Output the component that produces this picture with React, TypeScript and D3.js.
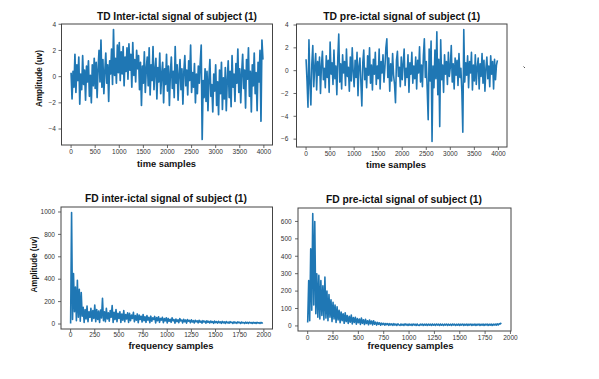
import React from "react";
import * as d3 from "d3";

const TD_STEP = 20;
const FD_STEP = 10;

const TD_INTER = [
  0.3, -1.7, 0.4, -0.8, 1.7, -1.2, 0.9, -0.3, 1.5, -2.1,
  0.2, -1.0, 1.6, -0.6, 0.5, -1.8, 0.8, -0.4, 1.2, -1.5,
  0.1, -2.0, 0.9, -0.7, 1.4, -0.9, 1.1, -1.6, 0.6, 2.0,
  -0.4, 2.8, -0.8, 1.3, -1.3, 0.4, 1.8, -0.5, 0.9, -1.9,
  1.2, 0.2, 2.1, -0.6, 3.6, 0.1, 1.4, -0.5, 2.4, 0.3,
  2.6, -0.3, 1.9, 0.2, 2.3, -0.7, 1.5, 0.4, 2.2, -0.2,
  2.5, 0.5, 1.7, -0.8, 2.6, 0.1, 1.3, -0.4, 2.0, 0.6,
  1.6, -1.0, 1.1, -2.2, 0.8, -0.5, 1.9, -1.2, 0.6, 1.5,
  -0.7, 2.2, -1.4, 0.9, -0.3, 2.3, -1.0, 0.5, 1.4, -1.7,
  0.7, -0.4, 1.8, -1.3, 0.2, 1.1, -2.0, 0.6, -0.6, 1.7,
  -1.1, 0.8, -2.2, 0.3, 1.5, -0.9, 0.4, -1.6, 2.3, -0.5,
  0.9, -1.8, 0.2, 1.3, -1.0, 0.6, -2.1, 0.4, 1.6, -0.7,
  0.5, -1.4, 1.2, -0.3, 2.4, -1.2, 0.3, -0.8, 1.0, -2.0,
  0.2, -1.3, 0.8, -0.5, 1.1, 2.4, -4.8, -0.3, -1.6, 0.6,
  -1.9, 0.4, -2.6, -0.2, 1.3, -1.5, -0.6, -2.7, 0.2, -1.1,
  0.9, -2.2, -0.4, -2.9, 0.5, -1.3, 1.1, -2.5, -0.1, -1.7,
  0.7, -2.6, -0.3, 1.2, -1.6, 0.4, -2.3, 1.6, -0.8, 0.2,
  -1.9, 1.0, -0.5, 2.1, -1.2, 0.6, -2.0, 0.3, 1.7, -0.9,
  0.5, -2.4, 1.3, -0.2, 2.2, -1.5, 0.4, -2.7, 0.9, -0.7,
  1.8, -1.3, 0.3, -2.6, 1.1, -0.4, 2.0, -3.4, 2.8, 1.3,
];

const TD_PRE = [
  1.0, -0.9, -3.2, 2.7, -1.1, -3.0, 0.6, 2.2, -1.4, 0.3,
  1.5, -1.7, 0.8, -0.4, 1.2, -2.0, 0.5, 1.7, -0.8, 0.2,
  -1.5, 1.3, -0.6, 0.9, -1.9, 2.5, -0.3, 0.7, -1.2, 1.8,
  -0.7, 0.4, -2.1, 1.1, 3.2, -1.0, 0.6, -1.6, 1.4, -0.2,
  0.8, -1.3, 1.9, -0.5, 0.3, -1.8, 1.2, -0.9, 2.0, -0.1,
  -1.4, 0.9, -0.6, 1.6, -2.2, 0.4, 1.1, -1.0, -3.1, 0.7,
  1.8, -0.8, 0.2, -1.5, 1.3, -0.4, 2.0, -1.1, 0.5, -1.7,
  1.0, -0.3, 1.6, -1.2, 0.4, -0.7, 1.9, -1.6, 0.8, -0.2,
  1.4, -1.0, 0.3, 2.0, 2.8, -0.6, 1.1, -1.8, 0.6, -0.9,
  1.5, -0.4, -1.2, -2.8, 0.9, 1.7, -0.5, 0.3, -1.4, 1.2,
  -0.8, 0.6, 1.9, -1.3, 0.2, -0.6, 1.4, -1.9, 0.7, -0.3,
  1.6, -1.1, 0.4, -0.7, 1.2, -1.6, 0.9, -0.2, 2.1, -1.0,
  0.5, -1.4, 1.3, 2.8, -0.6, 0.8, -1.7, -4.3, 1.9, -0.9,
  2.6, -6.2, 0.4, -1.5, 1.8, -0.7, 3.4, -2.1, 1.0, -4.9,
  2.7, -0.8, 0.5, -1.9, 1.4, -0.3, 0.8, -1.2, 1.6, -0.5,
  0.3, 2.2, -1.0, 0.6, -1.6, 1.1, -0.4, 0.9, -1.3, 1.5,
  -0.6, 0.2, -1.8, -5.4, 3.6, -1.0, 0.7, -0.4, 1.3, -1.5,
  0.8, -0.2, 1.6, -1.7, 0.5, -0.9, 1.4, -1.2, 0.3, 1.1,
  -1.6, 0.6, -0.5, 1.5, -1.1, 0.9, -1.8, 0.2, 1.2, -0.7,
  0.4, -1.4, 1.3, -0.3, 0.8, -1.6, 1.0, -0.8, 0.5, 0.9,
];

const FD_INTER = [
  5, 995, 40, 450, 110, 330, 30, 390, 60, 310,
  25, 280, 70, 150, 15, 130, 45, 160, 20, 110,
  60, 140, 25, 120, 50, 170, 20, 130, 40, 115,
  15, 125, 55, 230, 30, 110, 20, 140, 45, 100,
  25, 120, 60, 165, 15, 105, 40, 130, 20, 95,
  50, 110, 15, 90, 35, 120, 20, 85, 45, 100,
  15, 95, 30, 80, 50, 105, 20, 75, 35, 90,
  12, 80, 40, 70, 18, 85, 30, 65, 15, 75,
  35, 60, 12, 70, 25, 55, 40, 68, 10, 58,
  30, 65, 15, 50, 35, 60, 12, 48, 28, 55,
  10, 50, 25, 42, 15, 55, 30, 40, 8, 45,
  22, 38, 12, 48, 28, 35, 10, 42, 20, 36,
  8, 40, 25, 32, 12, 38, 18, 30, 9, 34,
  20, 28, 10, 33, 16, 26, 8, 30, 18, 25,
  7, 29, 15, 24, 9, 27, 14, 22, 6, 26,
  13, 21, 8, 24, 12, 20, 6, 23, 11, 19,
  5, 22, 10, 18, 7, 21, 12, 17, 5, 20,
  9, 16, 6, 19, 11, 15, 5, 18, 10, 14,
  5, 17, 8, 14, 6, 16, 10, 13, 5, 15,
  8, 13, 5, 15, 9, 12, 5, 14, 8, 12,
];

const FD_PRE = [
  20, 260, 30, 443, 90, 645, 120, 600, 70, 300,
  50, 290, 40, 260, 60, 230, 35, 280, 45, 200,
  30, 180, 50, 150, 25, 135, 40, 120, 20, 110,
  35, 90, 18, 80, 30, 70, 15, 75, 25, 60,
  14, 55, 22, 62, 12, 48, 20, 50, 10, 42,
  18, 40, 9, 45, 15, 35, 8, 38, 14, 30,
  7, 34, 12, 28, 6, 30, 10, 22, 5, 20,
  9, 18, 4, 16, 8, 15, 4, 14, 7, 13,
  3, 13, 6, 12, 3, 13, 5, 11, 3, 12,
  6, 3, 11, 4, 10, 3, 12, 5, 10, 3,
  11, 4, 10, 3, 11, 5, 10, 3, 11, 4,
  3, 10, 5, 11, 3, 10, 4, 11, 3, 10,
  5, 10, 3, 11, 4, 10, 3, 11, 5, 10,
  3, 11, 4, 10, 3, 10, 5, 11, 3, 10,
  4, 10, 3, 11, 5, 10, 3, 10, 4, 11,
  3, 10, 5, 11, 3, 10, 4, 11, 3, 10,
  5, 11, 3, 10, 4, 11, 3, 10, 5, 11,
  3, 10, 4, 11, 3, 10, 5, 11, 3, 10,
  4, 11, 3, 10, 5, 11, 4, 12, 6, 13,
  12, 17,
];

const TD_X_TICKS = [0, 500, 1000, 1500, 2000, 2500, 3000, 3500, 4000];
const FD_X_TICKS = [0, 250, 500, 750, 1000, 1250, 1500, 1750, 2000];
const TD_INTER_Y_TICKS = [-4, -2, 0, 2, 4];
const TD_PRE_Y_TICKS = [-6, -4, -2, 0, 2, 4];
const FD_INTER_Y_TICKS = [0, 200, 400, 600, 800, 1000];
const FD_PRE_Y_TICKS = [0, 100, 200, 300, 400, 500, 600];

const TITLES = [
  "TD Inter-ictal signal of subject (1)",
  "TD pre-ictal signal of subject (1)",
  "FD inter-ictal signal of subject (1)",
  "FD pre-ictal signal of subject (1)",
];
const X_LABELS = ["time samples", "frequency samples"];
const Y_LABEL = "Amplitude (uv)";

const LINE_COLOR = "#1f77b4";
const AXIS_COLOR = "#444";
const FONT = "'Liberation Sans', Arial, sans-serif";

const fmt = (d: number) => (d < 0 ? "\u2212" + Math.abs(d) : String(d));

type Box = { x0: number; x1: number; y0: number; y1: number };

function Panel(props: {
  values: number[];
  step: number;
  box: Box;
  xTicks: number[];
  yTicks: number[];
  title: string;
  titleX: number;
  titleY: number;
  titleW: number;
  xlabel: string;
  xlabelX: number;
  xlabelY: number;
  xlabelW: number;
  xTickY: number;
  yTickGap: number;
  lineWidth: number;
  ylabel?: string;
  ylabelX?: number;
  ylabelY?: number;
  ylabelW?: number;
}) {
  const p = props;
  const { box } = p;
  const xMax = (p.values.length - 1) * p.step;
  const xPad = xMax * 0.05;
  const [yMin, yMax] = d3.extent(p.values) as [number, number];
  const yPad = (yMax - yMin) * 0.05;
  const x = d3.scaleLinear().domain([-xPad, xMax + xPad]).range([box.x0, box.x1]);
  const y = d3.scaleLinear().domain([yMin - yPad, yMax + yPad]).range([box.y1, box.y0]);
  const line = d3
    .line<number>()
    .x((_, i) => x(i * p.step))
    .y((d) => y(d));
  return (
    <g>
      <path d={line(p.values) || ""} fill="none" stroke={LINE_COLOR} strokeWidth={p.lineWidth} strokeLinejoin="round" />
      <rect x={box.x0} y={box.y0} width={box.x1 - box.x0} height={box.y1 - box.y0} fill="none" stroke={AXIS_COLOR} strokeWidth={1} />
      {p.xTicks.map((t) => (
        <g key={"x" + t}>
          <line x1={x(t)} x2={x(t)} y1={box.y1} y2={box.y1 + 3} stroke={AXIS_COLOR} strokeWidth={0.8} />
          <text x={x(t)} y={p.xTickY} fontSize={6.5} fill="#333" textAnchor="middle" fontFamily={FONT}>
            {fmt(t)}
          </text>
        </g>
      ))}
      {p.yTicks.map((t) => (
        <g key={"y" + t}>
          <line x1={box.x0 - 3} x2={box.x0} y1={y(t)} y2={y(t)} stroke={AXIS_COLOR} strokeWidth={0.8} />
          <text x={box.x0 - p.yTickGap} y={y(t)} dy="0.35em" fontSize={6.5} fill="#333" textAnchor="end" fontFamily={FONT}>
            {fmt(t)}
          </text>
        </g>
      ))}
      <text
        x={p.titleX - p.titleW / 2}
        y={p.titleY}
        fontSize={10.2}
        fontWeight="bold"
        fill="#111"
        fontFamily={FONT}
        textLength={p.titleW}
        lengthAdjust="spacingAndGlyphs"
      >
        {p.title}
      </text>
      <text
        x={p.xlabelX - p.xlabelW / 2}
        y={p.xlabelY}
        fontSize={9.4}
        fontWeight="bold"
        fill="#111"
        fontFamily={FONT}
        textLength={p.xlabelW}
        lengthAdjust="spacingAndGlyphs"
      >
        {p.xlabel}
      </text>
      {p.ylabel && (
        <text
          transform={`translate(${p.ylabelX},${p.ylabelY}) rotate(-90)`}
          x={-(p.ylabelW as number) / 2}
          y={3}
          fontSize={8.4}
          fontWeight="bold"
          fill="#111"
          fontFamily={FONT}
          textLength={p.ylabelW}
          lengthAdjust="spacingAndGlyphs"
        >
          {p.ylabel}
        </text>
      )}
    </g>
  );
}

export default function App() {
  return (
    <svg width={599} height={379} style={{ position: "absolute", left: 0, top: 0, background: "#fff" }}>
      <rect x={0} y={0} width={599} height={379} fill="#fff" />
      <Panel
        values={TD_INTER}
        step={TD_STEP}
        lineWidth={1.7}
        box={{ x0: 61.5, x1: 272.5, y0: 24, y1: 145 }}
        xTicks={TD_X_TICKS}
        yTicks={TD_INTER_Y_TICKS}
        title={TITLES[0]}
        titleX={177}
        titleY={19.5}
        titleW={160}
        xlabel={X_LABELS[0]}
        xlabelX={166.5}
        xlabelY={167}
        xlabelW={59}
        xTickY={153.5}
        yTickGap={5.5}
        ylabel={Y_LABEL}
        ylabelX={39}
        ylabelY={78.5}
        ylabelW={57}
      />
      <Panel
        values={TD_PRE}
        step={TD_STEP}
        lineWidth={1.6}
        box={{ x0: 296.5, x1: 507, y0: 24, y1: 147 }}
        xTicks={TD_X_TICKS}
        yTicks={TD_PRE_Y_TICKS}
        title={TITLES[1]}
        titleX={401.7}
        titleY={19.5}
        titleW={157}
        xlabel={X_LABELS[0]}
        xlabelX={396}
        xlabelY={167.5}
        xlabelW={60}
        xTickY={155.5}
        yTickGap={8}
      />
      <Panel
        values={FD_INTER}
        step={FD_STEP}
        lineWidth={1.6}
        box={{ x0: 61, x1: 272.5, y0: 207, y1: 329 }}
        xTicks={FD_X_TICKS}
        yTicks={FD_INTER_Y_TICKS}
        title={TITLES[2]}
        titleX={166}
        titleY={201.5}
        titleW={162}
        xlabel={X_LABELS[1]}
        xlabelX={171}
        xlabelY={349}
        xlabelW={85}
        xTickY={337}
        yTickGap={6}
        ylabel={Y_LABEL}
        ylabelX={34}
        ylabelY={264.5}
        ylabelW={56}
      />
      <Panel
        values={FD_PRE}
        step={FD_STEP}
        lineWidth={1.6}
        box={{ x0: 298, x1: 511, y0: 208, y1: 331 }}
        xTicks={FD_X_TICKS}
        yTicks={FD_PRE_Y_TICKS}
        title={TITLES[3]}
        titleX={404}
        titleY={202.5}
        titleW={156}
        xlabel={X_LABELS[1]}
        xlabelX={410.5}
        xlabelY={348.5}
        xlabelW={86}
        xTickY={339.5}
        yTickGap={6.3}
      />
      <line x1={523.5} y1={66.5} x2={525} y2={68} stroke="#555" strokeWidth={1} />
    </svg>
  );
}
